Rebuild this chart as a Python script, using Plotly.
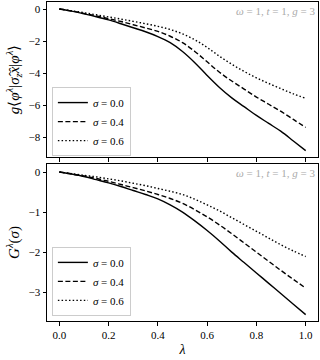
import plotly.graph_objects as go

# lambda grid
lam = [0.0, 0.05, 0.1, 0.15, 0.2, 0.25, 0.3, 0.35, 0.4, 0.45, 0.5,
       0.55, 0.6, 0.65, 0.7, 0.75, 0.8, 0.85, 0.9, 0.95, 1.0]

sigma_labels = ["0.0", "0.4", "0.6"]

# top panel: g<phi|sigma_z x|phi>
top_s00 = [0.0, -0.13, -0.3, -0.48, -0.68, -0.92, -1.17, -1.42, -1.72, -2.1, -2.65,
           -3.35, -4.15, -4.9, -5.55, -6.1, -6.65, -7.15, -7.65, -8.25, -8.85]
top_s04 = [0.0, -0.12, -0.27, -0.43, -0.6, -0.78, -0.98, -1.18, -1.4, -1.7, -2.1,
           -2.65, -3.3, -3.95, -4.5, -5.0, -5.5, -5.95, -6.4, -6.9, -7.4]
top_s06 = [0.0, -0.11, -0.23, -0.36, -0.49, -0.63, -0.77, -0.92, -1.08, -1.28, -1.55,
           -1.92, -2.4, -2.95, -3.45, -3.9, -4.3, -4.65, -4.98, -5.3, -5.58]

# bottom panel: G^lambda(sigma)
bot_s00 = [0.0, -0.05, -0.11, -0.19, -0.27, -0.36, -0.46, -0.56, -0.67, -0.82, -1.0,
           -1.22, -1.46, -1.72, -2.0, -2.26, -2.52, -2.78, -3.04, -3.3, -3.56]
bot_s04 = [0.0, -0.05, -0.1, -0.16, -0.23, -0.31, -0.39, -0.47, -0.56, -0.66, -0.78,
           -0.94, -1.12, -1.32, -1.54, -1.77, -2.0, -2.23, -2.46, -2.68, -2.9]
bot_s06 = [0.0, -0.04, -0.08, -0.12, -0.17, -0.22, -0.28, -0.34, -0.41, -0.48, -0.56,
           -0.68, -0.82, -0.97, -1.14, -1.31, -1.48, -1.65, -1.82, -1.97, -2.11]

x_ticks = [0.0, 0.2, 0.4, 0.6, 0.8, 1.0]
x_ticktext = ["0.0", "0.2", "0.4", "0.6", "0.8", "1.0"]
top_yticks = [0, -2, -4, -6, -8]
top_yticktext = ["0", "\u22122", "\u22124", "\u22126", "\u22128"]
bot_yticks = [0, -1, -2, -3]
bot_yticktext = ["0", "\u22121", "\u22122", "\u22123"]

FONT = "Liberation Serif"
dashes = ["solid", "5px,2.5px", "1.5px,2.2px"]

fig = go.Figure()
for lab, ys, d in zip(sigma_labels, [top_s00, top_s04, top_s06], dashes):
    fig.add_trace(go.Scatter(x=lam, y=ys, mode="lines", name="<i>σ</i> = " + lab,
                             line=dict(color="black", width=1.4, dash=d, shape="spline"),
                             xaxis="x", yaxis="y", legend="legend"))
for lab, ys, d in zip(sigma_labels, [bot_s00, bot_s04, bot_s06], dashes):
    fig.add_trace(go.Scatter(x=lam, y=ys, mode="lines", name="<i>σ</i> = " + lab,
                             line=dict(color="black", width=1.4, dash=d, shape="spline"),
                             xaxis="x2", yaxis="y2", legend="legend2"))

axis_common = dict(showline=True, linecolor="black", linewidth=1, mirror=True,
                   ticks="outside", ticklen=3.5, tickwidth=0.8, tickcolor="black",
                   showgrid=False, zeroline=False,
                   tickfont=dict(family=FONT, size=11, color="black"))

legend_common = dict(x=0.018, xanchor="left", yanchor="bottom",
                     bgcolor="rgba(255,255,255,0.8)", bordercolor="#cccccc", borderwidth=1,
                     font=dict(family=FONT, size=11, color="black"),
                     tracegroupgap=0, itemwidth=30)

fig.update_layout(
    width=320, height=360,
    margin=dict(l=47, r=2, t=2, b=39),
    paper_bgcolor="white", plot_bgcolor="white",
    font=dict(family=FONT, size=11, color="black"),
    xaxis=dict(axis_common, domain=[0, 1], anchor="y", range=[-0.05, 1.05],
               tickvals=x_ticks, showticklabels=False),
    yaxis=dict(axis_common, domain=[0.514, 1], anchor="x", range=[-9.25, 0.44],
               tickvals=top_yticks, ticktext=top_yticktext,
               title=dict(text="<i>g</i>⟨<i>φ</i><sup><i>λ</i></sup>|<i>σ̂</i><sub><i>z</i></sub><i>x̂</i>|<i>φ</i><sup><i>λ</i></sup>⟩",
                          font=dict(family=FONT, size=15), standoff=5)),
    xaxis2=dict(axis_common, domain=[0, 1], anchor="y2", range=[-0.05, 1.05],
                tickvals=x_ticks, ticktext=x_ticktext,
                title=dict(text="<i>λ</i>", font=dict(family=FONT, size=14), standoff=4)),
    yaxis2=dict(axis_common, domain=[0, 0.492], anchor="x2", range=[-3.72, 0.2],
                tickvals=bot_yticks, ticktext=bot_yticktext,
                title=dict(text="<i>G</i><sup><i>λ</i></sup>(<i>σ</i>)",
                           font=dict(family=FONT, size=15), standoff=5)),
    legend=dict(legend_common, y=0.517),
    legend2=dict(legend_common, y=0.016),
)

for yref in ["y domain", "y2 domain"]:
    xref = "x domain" if yref == "y domain" else "x2 domain"
    fig.add_annotation(text="<i>ω</i> = 1, <i>t</i> = 1, <i>g</i> = 3",
                       xref=xref, yref=yref, x=0.995, y=0.995,
                       xanchor="right", yanchor="top", showarrow=False,
                       font=dict(family=FONT, size=11, color="#aaaaaa"))

fig.write_html("out.html", config={"displayModeBar": False},
               post_script="document.body.style.margin='0';")
